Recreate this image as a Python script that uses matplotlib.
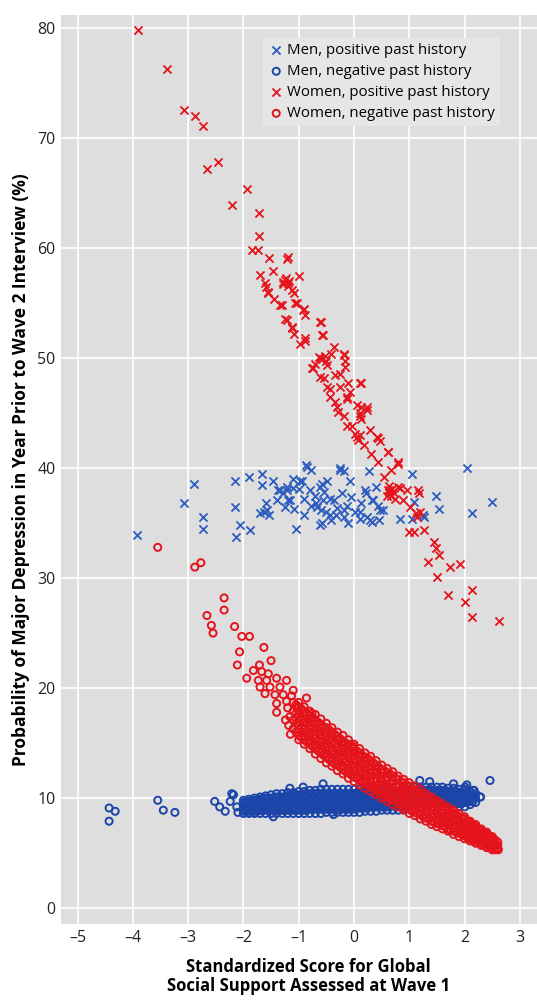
import matplotlib.pyplot as plt

plt.rcParams['font.family'] = ['Open Sans', 'DejaVu Sans']

# Hombres, historia previa positiva (x azules)
mp_x = [-3.92, -3.08, -2.89, -2.73, -2.73, -2.16, -2.16, -2.13, -2.06, -1.90, -1.88, -1.67, -1.67,
        -1.59, -1.62, -1.53, -1.47, -1.37, -1.28, -1.22, -1.16, -1.25, -1.09, -1.05, -1.00, -0.94,
        -0.85, -0.78, -0.91, -0.78, -0.69, -0.60, -0.57, -0.54, -0.44, -0.50, -0.57, -0.41, -0.32,
        -0.26, -0.19, -0.07, -0.22, -0.13, -0.19, -0.10, 0.02, 0.12, 0.21, 0.27, 0.33, 0.24, 0.33,
        0.46, 0.52, 0.43, 0.83, 1.05, 1.05, 1.08, 1.27, 1.48, 1.54, 2.05, 2.13, 2.49,
        -1.34, -1.10, -1.19, -0.98, -0.86, -0.61, -0.56, -0.67, -0.43, -0.61, -1.58, -1.70, -1.22,
        -1.40, -0.25, -0.49, 0.20, -0.37, -0.19, 0.11, 0.35, 0.47, 0.29, 1.25,
        -0.90, -0.80, -0.30, -0.05, 0.10, -0.70, -1.10, 0.40]
mp_y = [33.9, 36.8, 38.6, 35.6, 34.5, 38.8, 36.5, 33.7, 34.8, 39.2, 34.4, 39.5, 38.5,
        36.8, 36.0, 35.7, 38.8, 38.0, 37.7, 38.3, 37.1, 36.5, 36.3, 34.5, 38.1, 38.8,
        40.1, 39.8, 35.7, 36.6, 36.8, 36.2, 38.6, 37.8, 37.2, 36.0, 35.0, 35.3, 35.7,
        39.8, 39.7, 38.8, 37.7, 36.6, 35.6, 35.0, 36.0, 36.8, 37.7, 39.7, 37.1, 35.6, 35.1,
        35.3, 36.2, 36.6, 35.4, 39.5, 35.4, 36.9, 35.6, 37.5, 36.3, 40.0, 35.9, 36.9,
        38.0, 38.2, 37.1, 38.8, 40.3, 38.3, 37.1, 36.5, 35.7, 34.8, 36.2, 35.9, 38.0,
        37.1, 40.0, 38.8, 38.0, 37.1, 36.2, 36.0, 37.1, 36.2, 35.3, 35.7,
        37.2, 38.0, 36.4, 37.4, 35.4, 37.5, 39.0, 38.3]

# Hombres, historia previa negativa (o azules): puntos sueltos
mn_x = [-4.43, -4.32, -4.43, -3.55, -3.45, -3.24, -2.52, -2.43, -2.33, -2.24, -2.18, -2.12, -2.10,
        -2.21, -1.16, -0.92, -0.56, 1.19, 1.37, 1.80, 2.04, 2.16, 2.28, 2.46, 2.01, 2.17, 2.29,
        2.10, -1.46, -0.37]
mn_y = [9.1, 8.8, 7.9, 9.8, 8.9, 8.7, 9.7, 9.2, 8.8, 9.7, 10.3, 9.2, 8.7,
        10.4, 10.9, 11.0, 11.3, 11.6, 11.5, 11.3, 11.2, 10.7, 10.1, 11.6, 11.0, 10.7, 10.1,
        9.8, 8.3, 8.5]
# banda densa, leída por columnas
mn_band_x = [-2.0, -1.95, -1.9, -1.85, -1.8, -1.75, -1.7, -1.65, -1.6, -1.55, -1.5, -1.45, -1.4,
             -1.35, -1.3, -1.25, -1.2, -1.15, -1.1, -1.05, -1.0, -0.95, -0.9, -0.85, -0.8, -0.75,
             -0.7, -0.65, -0.6, -0.55, -0.5, -0.45, -0.4, -0.35, -0.3, -0.25, -0.2, -0.15, -0.1,
             -0.05, 0.0, 0.05, 0.1, 0.15, 0.2, 0.25, 0.3, 0.35, 0.4, 0.45, 0.5, 0.55, 0.6, 0.65,
             0.7, 0.75, 0.8, 0.85, 0.9, 0.95, 1.0, 1.05, 1.1, 1.15, 1.2, 1.25, 1.3, 1.35, 1.4,
             1.45, 1.5, 1.55, 1.6, 1.65, 1.7, 1.75, 1.8, 1.85, 1.9, 1.95, 2.0, 2.05, 2.1, 2.15, 2.2]
mn_band_y = [[8.6, 8.8, 9.0, 9.2, 9.4, 9.6, 9.8], [8.8, 9.2, 9.6],
             [8.6, 8.8, 9.0, 9.3, 9.5, 9.7, 9.9], [8.8, 9.3, 9.7],
             [8.6, 8.8, 9.1, 9.3, 9.5, 9.8, 10.0], [8.8, 9.3, 9.8],
             [8.6, 8.9, 9.1, 9.4, 9.6, 9.9, 10.1], [8.9, 9.4, 9.9],
             [8.6, 8.9, 9.1, 9.4, 9.7, 10.0, 10.2], [8.9, 9.4, 10.0],
             [8.6, 8.9, 9.2, 9.5, 9.7, 10.0, 10.3], [8.9, 9.5, 10.0],
             [8.6, 8.9, 9.2, 9.5, 9.8, 10.1, 10.4], [8.9, 9.5, 10.1],
             [8.6, 8.9, 9.2, 9.5, 9.8, 10.1, 10.4], [8.9, 9.5, 10.1],
             [8.6, 8.9, 9.2, 9.6, 9.9, 10.2, 10.5], [8.9, 9.6, 10.2],
             [8.6, 8.9, 9.2, 9.6, 9.9, 10.3, 10.5], [8.9, 9.6, 10.3],
             [8.6, 8.9, 9.3, 9.6, 9.9, 10.3, 10.6], [8.9, 9.6, 10.3],
             [8.6, 8.9, 9.3, 9.6, 10.0, 10.3, 10.6], [8.9, 9.6, 10.3],
             [8.6, 9.0, 9.3, 9.7, 10.0, 10.4, 10.7], [9.0, 9.7, 10.4],
             [8.6, 9.0, 9.3, 9.7, 10.0, 10.4, 10.7], [9.0, 9.7, 10.4],
             [8.6, 9.0, 9.3, 9.7, 10.1, 10.4, 10.8], [9.0, 9.7, 10.4],
             [8.7, 9.0, 9.4, 9.7, 10.1, 10.4, 10.8], [9.0, 9.7, 10.4],
             [8.7, 9.0, 9.4, 9.7, 10.1, 10.4, 10.8], [9.0, 9.7, 10.4],
             [8.7, 9.0, 9.4, 9.7, 10.1, 10.4, 10.8], [9.0, 9.7, 10.4],
             [8.7, 9.0, 9.4, 9.7, 10.1, 10.4, 10.8], [9.0, 9.7, 10.4],
             [8.7, 9.0, 9.4, 9.7, 10.1, 10.4, 10.8], [9.0, 9.7, 10.4],
             [8.7, 9.0, 9.4, 9.7, 10.1, 10.4, 10.8], [9.1, 9.8, 10.5],
             [8.7, 9.1, 9.4, 9.8, 10.1, 10.5, 10.8], [9.1, 9.8, 10.5],
             [8.8, 9.1, 9.5, 9.8, 10.1, 10.5, 10.8], [9.1, 9.8, 10.5],
             [8.8, 9.2, 9.5, 9.9, 10.2, 10.5, 10.9], [9.2, 9.9, 10.5],
             [8.8, 9.2, 9.5, 9.9, 10.2, 10.6, 10.9], [9.2, 9.9, 10.6],
             [8.9, 9.2, 9.5, 9.9, 10.2, 10.6, 10.9], [9.2, 9.9, 10.6],
             [8.9, 9.2, 9.6, 9.9, 10.2, 10.6, 10.9], [9.2, 9.9, 10.6],
             [8.9, 9.3, 9.6, 9.9, 10.3, 10.6, 10.9], [9.3, 9.9, 10.6],
             [8.9, 9.3, 9.6, 10.0, 10.3, 10.6, 11.0], [9.3, 10.0, 10.6],
             [9.0, 9.3, 9.6, 10.0, 10.3, 10.7, 11.0], [9.3, 10.0, 10.7],
             [9.0, 9.3, 9.7, 10.0, 10.3, 10.7, 11.0], [9.3, 10.0, 10.7],
             [9.0, 9.4, 9.7, 10.0, 10.3, 10.7, 11.0], [9.4, 10.0, 10.7],
             [9.1, 9.4, 9.7, 10.1, 10.4, 10.7, 11.0], [9.4, 10.1, 10.7],
             [9.1, 9.4, 9.7, 10.1, 10.4, 10.7, 11.0], [9.4, 10.1, 10.7],
             [9.2, 9.5, 9.8, 10.1, 10.4, 10.7, 11.0], [9.5, 10.1, 10.7],
             [9.2, 9.5, 9.8, 10.1, 10.4, 10.7, 11.0], [9.5, 10.1, 10.7],
             [9.2, 9.5, 9.8, 10.1, 10.4, 10.7, 11.0], [9.5, 10.1, 10.7],
             [9.2, 9.5, 9.8, 10.1, 10.3, 10.6, 10.9], [9.5, 10.1, 10.6],
             [9.2, 9.5, 9.8, 10.0, 10.3, 10.6, 10.9], [9.5, 10.0, 10.6],
             [9.2, 9.5, 9.7, 10.0, 10.3, 10.5, 10.8], [9.5, 10.0, 10.5],
             [9.2, 9.6, 9.7, 10.0, 10.3, 10.4, 10.8], [9.6, 10.0, 10.4],
             [9.4, 9.7, 9.8, 10.0, 10.2, 10.3, 10.6], [9.7, 10.0, 10.3],
             [9.6, 10.0, 10.4]]

# Mujeres, historia previa positiva (x rojas)
wp_x = [-3.90, -3.39, -3.08, -2.88, -2.74, -2.66, -2.46, -2.21, -1.94, -1.71, -1.71, -1.84, -1.73,
        -1.53, -1.22, -1.20, -1.70, -1.46, -1.00, -1.25, -1.20, -1.28, -1.59, -1.56, -1.44, -1.19,
        -1.09, -1.03, -1.31, -0.91, -0.88, -1.22, -0.60, -1.12,
        -1.61, -1.28, -1.55, -1.13, -1.34, -1.07, -0.92, -1.25, -1.13, -0.61, -0.56, -0.89, -0.98,
        -0.37, -0.19, -0.61, -0.71, -0.49, -0.76, -0.16, -0.61, -0.34, 0.11, -0.49, -0.25, -0.10,
        -0.43, -0.13, -0.31, 0.05, 0.23, 0.11, -0.19, -0.04, 0.11, 0.41,
        -1.09, -0.88, -0.57, -0.63, -0.41, -0.19, -0.75, -0.50, -0.16, -0.54, -0.26, 0.12, -0.44,
        -0.07, -0.35, -0.13, 0.12, 0.24, -0.29, 0.12, -0.13, 0.05, 0.18, 0.43, 0.30, 0.43, 0.61,
        0.80, 0.67, 0.55, 0.61, 0.67, 0.74, 0.80, 0.95, 0.89, 1.17, 1.02, 1.20, 1.14, 0.99, 1.08,
        1.27, 1.45, 1.48, 1.54, 1.33, 1.73, 1.92, 1.51, 1.70, 2.13, 2.01, 2.13, 2.63,
        1.16, 1.13, 0.83, 0.62, 0.80, 0.47, 0.29, 0.11, 0.65, 0.59, 0.70, 0.64,
        -1.23, -1.18, -0.58, -0.52, 0.02, 0.08, 0.63, 0.68]
wp_y = [79.8, 76.3, 72.6, 72.0, 71.1, 67.2, 67.8, 63.9, 65.4, 63.2, 61.1, 59.8, 59.8,
        59.1, 59.0, 59.2, 57.6, 57.9, 57.5, 57.1, 56.8, 56.7, 56.5, 55.9, 55.4, 56.6,
        55.9, 55.0, 54.8, 54.5, 53.9, 53.5, 53.3, 52.8,
        56.8, 56.9, 56.0, 56.2, 54.8, 55.0, 54.4, 53.6, 52.7, 53.3, 52.1, 51.8, 51.3,
        51.0, 50.3, 50.0, 49.5, 49.4, 49.1, 49.2, 48.3, 48.5, 47.7, 47.4, 47.4, 47.7,
        46.5, 46.5, 45.6, 45.7, 45.6, 44.7, 44.7, 43.8, 43.0, 42.8,
        52.2, 51.6, 52.1, 50.1, 50.4, 50.4, 49.1, 49.7, 49.7, 48.2, 48.6, 47.7, 47.2,
        46.9, 46.0, 46.3, 45.6, 45.3, 45.1, 44.5, 43.8, 42.8, 42.1, 42.7, 41.3, 40.6, 41.5,
        40.4, 39.8, 39.2, 38.0, 37.5, 37.2, 38.3, 38.0, 37.1, 37.7, 36.5, 36.0, 35.6, 34.2, 34.2,
        34.4, 33.3, 32.7, 32.1, 31.5, 31.0, 31.3, 30.1, 28.5, 28.9, 27.8, 26.5, 26.1,
        38.0, 35.9, 38.2, 41.5, 40.6, 42.5, 43.5, 45.0, 38.0, 37.5, 37.8, 38.4,
        57.3, 57.0, 49.9, 50.2, 43.1, 42.6, 37.8, 38.1]

# Mujeres, historia previa negativa (o rojas): puntos sueltos
wn_x = [-3.55, -2.88, -2.77, -2.35, -2.35, -2.66, -2.58, -2.55, -2.16, -2.03, -1.89, -2.07, -1.63,
        -1.50, -2.11, -1.94, -1.71, -1.82, -1.67, -1.55, -1.73, -1.58, -1.40, -1.22, -1.70, -1.52,
        -1.34, -1.10, -1.61, -1.43, -1.28, -1.40, -1.22, -0.86, -1.40, -1.04, -1.16, -0.76,
        -0.01, 2.16, 2.34, 2.52, 2.61, 2.60, -1.18, -1.15, -1.24, -1.13, -1.20]
wn_y = [32.8, 31.0, 31.4, 28.2, 27.1, 26.6, 25.7, 25.0, 25.6, 24.7, 24.7, 23.3, 23.7,
        22.5, 22.1, 20.9, 22.1, 21.6, 21.5, 21.3, 20.7, 20.7, 20.9, 20.7, 20.1, 20.1,
        20.1, 19.8, 19.5, 19.4, 19.4, 18.6, 18.8, 19.1, 17.8, 18.3, 17.4, 17.7,
        14.7, 6.5, 6.2, 5.6, 5.3, 5.4, 16.6, 15.8, 17.1, 19.3, 18.2]
# banda densa, leída por columnas
wn_band_x = [-1.1, -1.05, -1.0, -0.95, -0.9, -0.85, -0.8, -0.75, -0.7, -0.65, -0.6, -0.55, -0.5,
             -0.45, -0.4, -0.35, -0.3, -0.25, -0.2, -0.15, -0.1, -0.05, 0.0, 0.05, 0.1, 0.15,
             0.2, 0.25, 0.3, 0.35, 0.4, 0.45, 0.5, 0.55, 0.6, 0.65, 0.7, 0.75, 0.8, 0.85, 0.9,
             0.95, 1.0, 1.05, 1.1, 1.15, 1.2, 1.25, 1.3, 1.35, 1.4, 1.45, 1.5, 1.55, 1.6, 1.65,
             1.7, 1.75, 1.8, 1.85, 1.9, 1.95, 2.0, 2.05, 2.1, 2.15, 2.2, 2.25, 2.3, 2.35, 2.4,
             2.45, 2.5, 2.55, 2.6]
wn_band_y = [[16.3, 17.1, 17.9, 18.7], [16.0, 16.8, 17.7, 18.5],
             [15.3, 15.7, 16.2, 16.6, 17.0, 17.4, 17.9, 18.3, 18.7], [15.5, 16.4, 17.2, 18.1],
             [14.9, 15.3, 15.7, 16.2, 16.6, 17.0, 17.5, 17.9, 18.3], [15.1, 16.0, 16.8, 17.7],
             [14.5, 14.9, 15.3, 15.8, 16.2, 16.6, 17.1, 17.5, 17.9], [14.7, 15.6, 16.4, 17.3],
             [14.0, 14.5, 14.9, 15.4, 15.8, 16.2, 16.7, 17.1, 17.6], [14.3, 15.2, 16.0, 16.9],
             [13.6, 14.1, 14.5, 15.0, 15.4, 15.8, 16.3, 16.7, 17.2], [13.9, 14.8, 15.6, 16.5],
             [13.2, 13.7, 14.1, 14.6, 15.0, 15.5, 15.9, 16.4, 16.8], [13.5, 14.4, 15.3, 16.2],
             [12.9, 13.3, 13.7, 14.2, 14.6, 15.1, 15.5, 16.0, 16.4], [13.1, 14.0, 14.9, 15.8],
             [12.5, 13.0, 13.4, 13.8, 14.3, 14.7, 15.2, 15.6, 16.0], [12.8, 13.7, 14.5, 15.4],
             [12.2, 12.6, 13.0, 13.5, 13.9, 14.4, 14.8, 15.2, 15.7], [12.4, 13.3, 14.2, 15.0],
             [11.8, 12.3, 12.7, 13.1, 13.6, 14.0, 14.4, 14.9, 15.3], [12.1, 12.9, 13.8, 14.7],
             [11.5, 11.9, 12.4, 12.8, 13.2, 13.6, 14.1, 14.5, 14.9], [11.8, 12.6, 13.4, 14.3],
             [11.2, 11.6, 12.0, 12.4, 12.9, 13.3, 13.7, 14.1, 14.5], [11.5, 12.3, 13.1, 13.9],
             [10.9, 11.3, 11.7, 12.1, 12.5, 12.9, 13.3, 13.7, 14.1], [11.2, 12.0, 12.8, 13.6],
             [10.6, 11.0, 11.4, 11.8, 12.2, 12.6, 13.0, 13.4, 13.8], [10.8, 11.6, 12.4, 13.2],
             [10.3, 10.7, 11.1, 11.5, 11.8, 12.2, 12.6, 13.0, 13.4], [10.5, 11.3, 12.1, 12.8],
             [10.0, 10.4, 10.8, 11.1, 11.5, 11.9, 12.3, 12.6, 13.0], [10.2, 11.0, 11.7, 12.5],
             [9.7, 10.1, 10.5, 10.8, 11.2, 11.6, 11.9, 12.3, 12.7], [9.9, 10.7, 11.4, 12.2],
             [9.4, 9.8, 10.2, 10.5, 10.9, 11.3, 11.6, 12.0, 12.4], [9.7, 10.4, 11.1, 11.8],
             [9.2, 9.5, 9.9, 10.2, 10.6, 11.0, 11.3, 11.7, 12.0], [9.4, 10.1, 10.8, 11.5],
             [8.9, 9.2, 9.6, 9.9, 10.3, 10.7, 11.0, 11.4, 11.7], [9.1, 9.8, 10.5, 11.2],
             [8.6, 9.0, 9.3, 9.7, 10.0, 10.4, 10.7, 11.1, 11.4], [8.8, 9.5, 10.2, 10.9],
             [8.4, 8.7, 9.0, 9.4, 9.7, 10.1, 10.4, 10.7, 11.1], [8.6, 9.2, 9.9, 10.6],
             [8.1, 8.5, 8.8, 9.1, 9.4, 9.8, 10.1, 10.4, 10.8], [8.3, 9.0, 9.6, 10.3],
             [7.9, 8.2, 8.5, 8.8, 9.2, 9.5, 9.8, 10.1, 10.4], [8.1, 8.7, 9.3, 10.0],
             [7.6, 7.9, 8.3, 8.6, 8.9, 9.2, 9.5, 9.8, 10.1], [7.8, 8.4, 9.0, 9.7],
             [7.4, 7.7, 8.0, 8.3, 8.6, 8.9, 9.2, 9.5, 9.8], [7.6, 8.2, 8.8, 9.4],
             [7.2, 7.5, 7.8, 8.1, 8.3, 8.6, 8.9, 9.2, 9.5], [7.4, 7.9, 8.5, 9.1],
             [7.0, 7.2, 7.5, 7.8, 8.1, 8.4, 8.6, 8.9, 9.2], [7.1, 7.7, 8.2, 8.8],
             [6.7, 7.0, 7.3, 7.5, 7.8, 8.1, 8.4, 8.6, 8.9], [6.9, 7.4, 7.9, 8.5],
             [6.5, 6.8, 7.0, 7.3, 7.6, 7.8, 8.1, 8.3, 8.6], [6.7, 7.2, 7.7, 8.2],
             [6.3, 6.6, 6.8, 7.1, 7.3, 7.6, 7.8, 8.1, 8.3], [6.4, 6.9, 7.4, 7.9],
             [6.1, 6.3, 6.6, 6.8, 7.0, 7.3, 7.5, 7.7, 7.9], [6.2, 6.7, 7.1, 7.5],
             [5.9, 6.1, 6.3, 6.5, 6.7, 7.0, 7.2, 7.4, 7.6], [6.0, 6.4, 6.8, 7.2],
             [5.7, 5.9, 6.1, 6.3, 6.5, 6.7, 6.8, 7.0, 7.2], [5.8, 6.1, 6.5, 6.9],
             [5.5, 5.7, 5.8, 6.0, 6.2, 6.4, 6.5, 6.7, 6.9], [5.6, 5.9, 6.2, 6.5],
             [5.3, 5.5, 5.6, 5.8, 5.9, 6.1, 6.2, 6.4, 6.5], [5.3, 5.6, 5.9, 6.2],
             [5.4, 5.7, 6.0]]

x_ticks = [-5, -4, -3, -2, -1, 0, 1, 2, 3]
y_ticks = [0, 10, 20, 30, 40, 50, 60, 70, 80]

blue_x = "#2c5cc0"
blue_o = "#1b45a8"
red = "#e5141c"


def flatten(cols_x, cols_y):
    xs, ys = [], []
    for x, col in zip(cols_x, cols_y):
        for y in col:
            xs.append(x)
            ys.append(y)
    return xs, ys


bx, by = flatten(mn_band_x, mn_band_y)
rx, ry = flatten(wn_band_x, wn_band_y)

fig = plt.figure(figsize=(5.37, 10.01), dpi=100)
ax = fig.add_axes([0.1136, 0.0769, 0.8864, 0.9081])
ax.set_facecolor("#dedede")

ax.scatter(mp_x, mp_y, marker="x", s=34, linewidths=1.3, color=blue_x,
           label="Men, positive past history", zorder=2)
ax.scatter(mn_x + bx, mn_y + by, marker="o", s=26, linewidths=1.4, facecolors="none",
           edgecolors=blue_o, label="Men, negative past history", zorder=3)
ax.scatter(wp_x, wp_y, marker="x", s=34, linewidths=1.3, color=red,
           label="Women, positive past history", zorder=4)
ax.scatter(wn_x + rx, wn_y + ry, marker="o", s=26, linewidths=1.4, facecolors="none",
           edgecolors=red, label="Women, negative past history", zorder=5)

ax.set_xlim(-5.30, 3.31)
ax.set_ylim(-1.45, 81.2)
ax.set_xticks(x_ticks)
ax.set_yticks(y_ticks)
ax.set_xticklabels([str(t).replace("-", "\u2013") for t in x_ticks])
ax.grid(True, color="white", linewidth=1.2)
ax.set_axisbelow(True)
for sp in ax.spines.values():
    sp.set_visible(False)
ax.tick_params(length=0, labelsize=11.5, pad=4, colors="#222222")

ax.set_ylabel("Probability of Major Depression in Year Prior to Wave 2 Interview (%)",
              fontsize=12.5, fontweight="bold", labelpad=5)
fig.text(0.575, 0.0245, "Standardized Score for Global\nSocial Support Assessed at Wave 1",
         ha="center", va="center", fontsize=12, fontweight="bold", linespacing=1.12)

leg = ax.legend(loc="upper left", bbox_to_anchor=(0.408, 0.983), fontsize=10.8,
                frameon=True, facecolor="#e6e6e6", edgecolor="none", framealpha=1,
                handletextpad=0.2, handlelength=1.1, labelspacing=0.4, borderpad=0.35)
leg.get_frame().set_boxstyle("square", pad=0.0)

fig.savefig("out.png", dpi=100)
